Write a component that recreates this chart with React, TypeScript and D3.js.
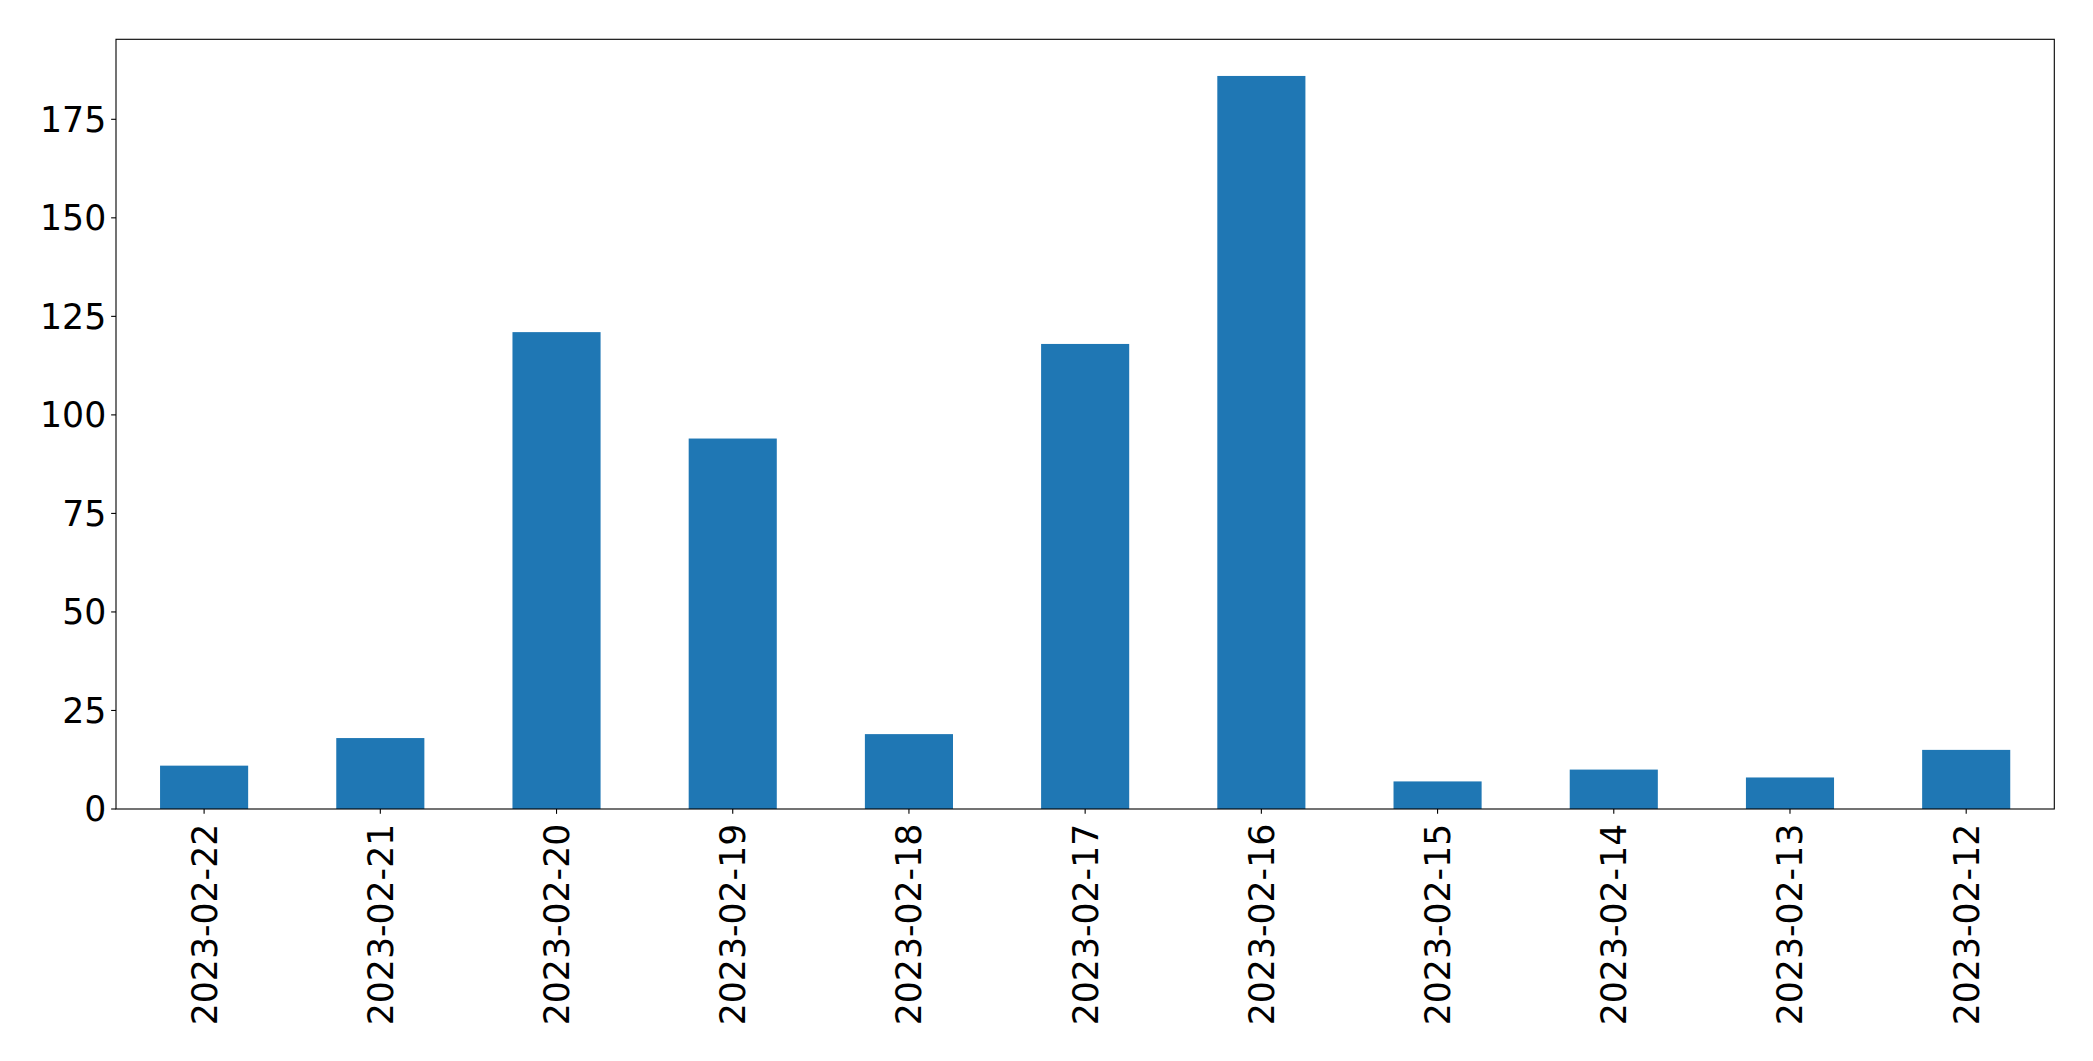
import React from "react";
import * as d3 from "d3";

const categories = [
  "2023-02-22", "2023-02-21", "2023-02-20", "2023-02-19", "2023-02-18", "2023-02-17",
  "2023-02-16", "2023-02-15", "2023-02-14", "2023-02-13", "2023-02-12",
];
const values = [11, 18, 121, 94, 19, 118, 186, 7, 10, 8, 15];
const yTicks = [0, 25, 50, 75, 100, 125, 150, 175];

const W = 2093;
const H = 1061;
const M = { left: 116, right: 2054.3, top: 39.3, bottom: 809 };
const FONT = "'DejaVu Sans', sans-serif";
const FS = 34.7;

export default function App() {
  const x = d3
    .scaleLinear()
    .domain([-0.5, categories.length - 0.5])
    .range([M.left, M.right]);
  const yMax = d3.max(values)! * 1.05;
  const y = d3.scaleLinear().domain([0, yMax]).range([M.bottom, M.top]);
  const barW = x(0.25) - x(-0.25);
  const tickLen = 4.86;
  const pad = 4.86;

  return (
    <svg
      width={W}
      height={H}
      style={{ position: "absolute", left: 0, top: 0, background: "#fff" }}
    >
      <rect x={0} y={0} width={W} height={H} fill="#fff" />
      {values.map((v, i) => (
        <rect
          key={i}
          x={x(i) - barW / 2}
          y={y(v)}
          width={barW}
          height={y(0) - y(v)}
          fill="#1f77b4"
        />
      ))}
      <rect
        x={M.left}
        y={M.top}
        width={M.right - M.left}
        height={M.bottom - M.top}
        fill="none"
        stroke="#000"
        strokeWidth={1.1}
      />
      {yTicks.map((t) => (
        <g key={t}>
          <line
            x1={M.left - tickLen}
            x2={M.left}
            y1={y(t)}
            y2={y(t)}
            stroke="#000"
            strokeWidth={1.1}
          />
          <text
            x={M.left - tickLen - pad}
            y={y(t)}
            dy="0.36em"
            textAnchor="end"
            fontFamily={FONT}
            fontSize={FS}
            fill="#000"
          >
            {t}
          </text>
        </g>
      ))}
      {categories.map((c, i) => (
        <g key={c}>
          <line
            x1={x(i)}
            x2={x(i)}
            y1={M.bottom}
            y2={M.bottom + tickLen}
            stroke="#000"
            strokeWidth={1.1}
          />
          <text
            transform={`translate(${x(i)},${M.bottom + tickLen + pad + 5}) rotate(-90)`}
            dy="0.36em"
            textAnchor="end"
            fontFamily={FONT}
            fontSize={FS}
            fill="#000"
          >
            {c}
          </text>
        </g>
      ))}
    </svg>
  );
}
